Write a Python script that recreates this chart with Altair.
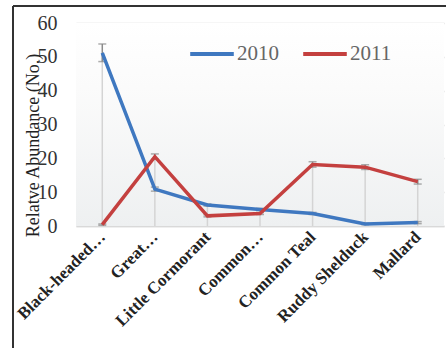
import altair as alt
import pandas as pd

# Species surveyed and mean relative abundance per year
species = [
    "Black-headed…",
    "Great…",
    "Little Cormorant",
    "Common…",
    "Common  Teal",
    "Ruddy Shelduck",
    "Mallard",
]
abund_2010 = [51.2, 10.9, 6.2, 4.9, 3.7, 0.6, 1.0]
abund_2011 = [0.4, 20.5, 3.0, 3.7, 18.2, 17.4, 13.1]
err_2010 = [2.6, 0.6, 0.3, 0.3, 0.3, 0.2, 0.3]
err_2011 = [0.2, 0.8, 0.3, 0.3, 0.8, 0.7, 0.7]
years = ["2010", "2011"]
colors = ["#3F78C0", "#C4403F"]
y_ticks = [0, 10, 20, 30, 40, 50, 60]

rows = []
for yr, vals, errs in [("2010", abund_2010, err_2010), ("2011", abund_2011, err_2011)]:
    for sp, v, e in zip(species, vals, errs):
        rows.append({"species": sp, "year": yr, "value": v, "lo": v - e, "hi": v + e})
df = pd.DataFrame(rows)

drops = pd.DataFrame({
    "species": species,
    "top": [max(a, b) for a, b in zip(abund_2010, abund_2011)],
    "zero": [0] * len(species),
})

W, H = 368, 203
SERIF = "Liberation Serif"

x_axis = alt.Axis(
    title=None,
    labelAngle=-45,
    labelAlign="right",
    labelBaseline="middle",
    labelFont=SERIF,
    labelFontWeight="bold",
    labelFontSize=17,
    labelColor="#222222",
    labelPadding=8,
    labelLimit=300,
    ticks=False,
    grid=False,
    domainColor="#d9d9d9",
    domainWidth=1.5,
)
y_axis = alt.Axis(
    title="Relatve Abundance (No.)",
    values=y_ticks,
    grid=True,
    gridColor="#d9d9d9",
    gridWidth=1.5,
    domain=False,
    ticks=False,
    labelOverlap=False,
    labelFont=SERIF,
    labelFontSize=20,
    labelColor="#333333",
    labelPadding=19,
    titleFont=SERIF,
    titleFontSize=18,
    titleFontWeight="normal",
    titleColor="#222222",
    titleAngle=-90,
    titleX=-43,
    titleY=122,
    titleAlign="center",
    titleBaseline="middle",
)
y_scale = alt.Scale(domain=[0, 60], nice=False, zero=True)


def xenc():
    return alt.X(
        "species:N",
        sort=species,
        scale=alt.Scale(type="point", padding=0.5),
        axis=x_axis,
    )


def yenc(field):
    return alt.Y(field, type="quantitative", scale=y_scale, axis=y_axis)


# plot-area background: white fading to a pale grey
background = alt.Chart(drops).mark_rect(
    color=alt.LinearGradient(
        gradient="linear",
        stops=[
            alt.GradientStop(color="#ffffff", offset=0),
            alt.GradientStop(color="#fbfbfb", offset=0.32),
            alt.GradientStop(color="#eef0f1", offset=1),
        ],
        x1=0, x2=0, y1=0, y2=1,
    )
).encode(x=alt.value(0), x2=alt.value(W), y=alt.value(0), y2=alt.value(H))

base = alt.Chart(df)

# drop lines from the higher series down to the baseline
droplines = alt.Chart(drops).mark_rule(color="#d4d4d4", strokeWidth=1.5).encode(
    x=xenc(), y=yenc("top"), y2="zero:Q"
)

err_rule = base.mark_rule(color="#8a8a8a", strokeWidth=1.5).encode(
    x=xenc(), y=yenc("lo"), y2="hi:Q"
)
cap_hi = base.mark_tick(color="#8a8a8a", thickness=1.5, size=8).encode(
    x=xenc(), y=yenc("hi")
)
cap_lo = base.mark_tick(color="#8a8a8a", thickness=1.5, size=8).encode(
    x=xenc(), y=yenc("lo")
)

lines = base.mark_line(strokeWidth=3.5).encode(
    x=xenc(),
    y=yenc("value"),
    color=alt.Color(
        "year:N",
        scale=alt.Scale(domain=years, range=colors),
        legend=alt.Legend(
            title=None,
            orient="none",
            legendX=112,
            legendY=7,
            direction="horizontal",
            symbolType="stroke",
            symbolSize=1900,
            symbolStrokeWidth=4,
            labelFont=SERIF,
            labelFontSize=21,
            labelColor="#666666",
            labelOffset=1,
            columnPadding=16,
        ),
    ),
)

# outer frame of the figure
frame_left = alt.Chart(drops).mark_rule(color="#333333", strokeWidth=1.5).encode(
    x=alt.value(-63), y=alt.value(-17), y2=alt.value(H + 200)
)
frame_top = alt.Chart(drops).mark_rule(color="#333333", strokeWidth=1.5).encode(
    x=alt.value(-63), x2=alt.value(W + 100), y=alt.value(-17)
)

chart = (
    alt.layer(background, droplines, err_rule, cap_hi, cap_lo, lines, frame_left, frame_top)
    .properties(
        width=W,
        height=H,
        autosize=alt.AutoSizeParams(type="none"),
        padding={"left": 76, "top": 23, "right": 2, "bottom": 122},
        background="white",
    )
    .configure_view(stroke=None)
)

chart.save("out.html", embed_options={"renderer": "svg", "actions": False})
